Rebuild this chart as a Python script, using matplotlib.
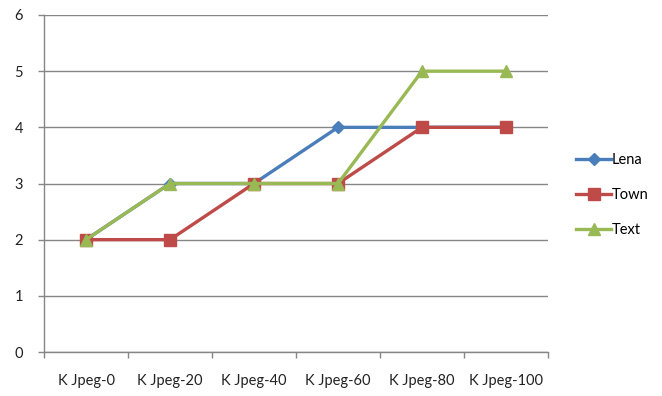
import numpy as np
import matplotlib.pyplot as plt

categories = ["K Jpeg-0", "K Jpeg-20", "K Jpeg-40", "K Jpeg-60", "K Jpeg-80", "K Jpeg-100"]
lena = [2, 3, 3, 4, 4, 4]
town = [2, 2, 3, 3, 4, 4]
text = [2, 3, 3, 3, 5, 5]

plt.rcParams['font.family'] = ['Lato', 'DejaVu Sans']

fig = plt.figure(figsize=(6.62, 3.96), dpi=100)
ax = fig.add_axes([44 / 662, 1 - 352 / 396, (548 - 44) / 662, (352 - 15) / 396])

x = np.arange(len(categories))
ax.plot(x, lena, color='#4A7EBB', lw=2.4, marker='D', ms=6, label='Lena', zorder=3)
ax.plot(x, town, color='#BE4B48', lw=2.4, marker='s', ms=8, label='Town', zorder=4)
ax.plot(x, text, color='#98B954', lw=2.4, marker='^', ms=8, label='Text', zorder=5)

ax.set_xlim(-0.5, len(categories) - 0.5)
ax.set_ylim(0, 6)
ax.set_yticks(range(7))
ax.set_xticks(x)
ax.set_xticklabels(categories)
ax.set_xticks(np.arange(-0.5, len(categories)), minor=True)
ax.tick_params(axis='x', which='major', length=0, pad=16, labelsize=10.5, colors='#222222')
ax.tick_params(axis='x', which='minor', length=4, color='#868686', width=1)
ax.tick_params(axis='y', length=4, color='#868686', width=1, labelsize=10.5, colors='#222222', pad=11)
ax.yaxis.grid(True, color='#868686', lw=1)
ax.set_axisbelow(True)
for s in ['top', 'right']:
    ax.spines[s].set_visible(False)
for s in ['left', 'bottom']:
    ax.spines[s].set_color('#868686')
    ax.spines[s].set_linewidth(1)

ax.legend(loc='center left', bbox_to_anchor=(1.03, 0.465), frameon=False,
          fontsize=10.5, handlelength=2.4, handletextpad=0.05, labelspacing=1.45)

fig.savefig('out.png', dpi=100)
